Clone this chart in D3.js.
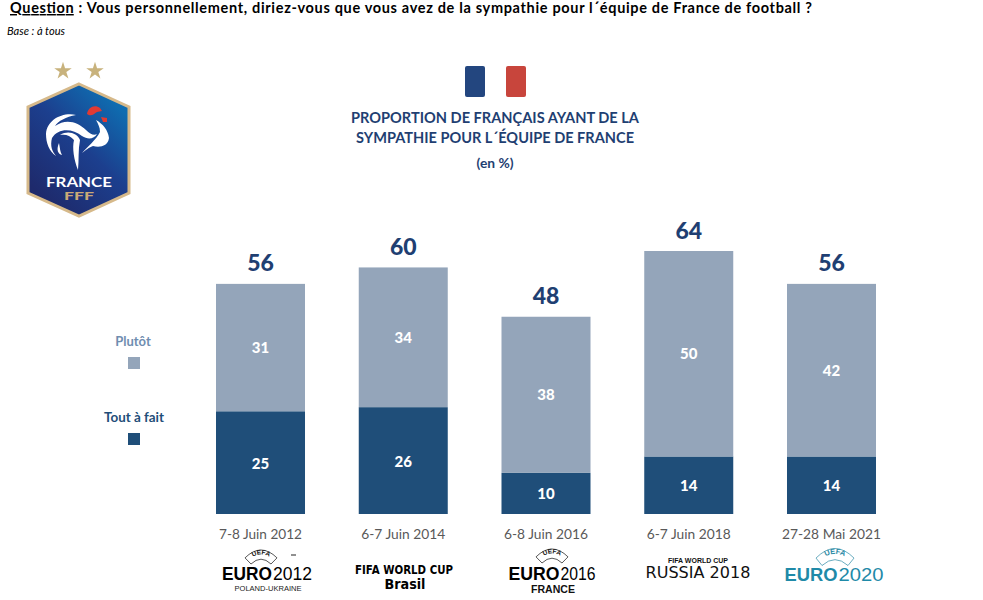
<!DOCTYPE html>
<html><head><meta charset="utf-8">
<script src="https://cdn.jsdelivr.net/npm/d3@7"></script>
<style>html,body{margin:0;padding:0;background:#fff}svg{display:block}text{font-family:Lato,"Noto Sans",sans-serif}</style>
</head><body><svg id="c" width="983" height="600"></svg>
<script>
const dates = ["7-8 Juin 2012","6-7 Juin 2014","6-8 Juin 2016","6-7 Juin 2018","27-28 Mai 2021"];
const toutAFait = [25,26,10,14,14];
const plutot = [31,34,38,50,42];
const totals = [56,60,48,64,56];
const seriesNames = ["Plutôt","Tout à fait"];
const navy="#1f4e79", light="#94a5ba", titleC="#1f3f72";

const svg=d3.select("#c");
const x=d3.scaleBand().domain(dates).range([216,876]).paddingInner(0.3765).paddingOuter(0);
const y=d3.scaleLinear().domain([0,64]).range([514,251]);
const T=(s,xx,yy,size,fill,o={})=>svg.append("text").attr("x",xx).attr("y",yy).attr("font-size",size).attr("fill",fill)
  .attr("text-anchor",o.a||"middle").attr("font-weight",o.w||"normal").attr("font-style",o.i||"normal").text(s);

// header
const q=svg.append("text").attr("x",10).attr("y",13).attr("font-size",14.5).attr("font-weight",700).attr("fill","#000");
q.append("tspan").attr("text-decoration","underline").text("Question");
q.append("tspan").text(" : Vous personnellement, diriez-vous que vous avez de la sympathie pour l´équipe de France de football ?");
q.attr("textLength",802).attr("lengthAdjust","spacing");
T("Base : à tous",7,35,10.5,"#000",{a:"start",i:"italic"}).attr("textLength",58).attr("lengthAdjust","spacingAndGlyphs");

// flag
svg.append("rect").attr("x",465).attr("y",66).attr("width",20).attr("height",31).attr("rx",2).attr("fill","#23467f");
svg.append("rect").attr("x",506).attr("y",66).attr("width",20).attr("height",31).attr("rx",2).attr("fill","#c8453c");
T("PROPORTION DE FRANÇAIS AYANT DE LA",495,123,15,titleC,{w:700}).attr("textLength",288).attr("lengthAdjust","spacingAndGlyphs");
T("SYMPATHIE POUR L´ÉQUIPE DE FRANCE",495,143,15,titleC,{w:700}).attr("textLength",278).attr("lengthAdjust","spacingAndGlyphs");
T("(en %)",495,168,13,titleC,{w:700}).attr("textLength",37).attr("lengthAdjust","spacingAndGlyphs");

// crest
const defs=svg.append("defs");
const g=defs.append("linearGradient").attr("id","crest").attr("x1","0.8").attr("y1","0.1").attr("x2","0.2").attr("y2","0.9");
g.append("stop").attr("offset","0").attr("stop-color","#0f6cb0");
g.append("stop").attr("offset","0.45").attr("stop-color","#1c3f8e");
g.append("stop").attr("offset","1").attr("stop-color","#1e2a6c");
const star=d3.symbol().type(d3.symbolStar).size(95);
[63,95].forEach(cx=>svg.append("path").attr("d",star()).attr("transform",`translate(${cx},71)`).attr("fill","#c8b27c"));
svg.append("path").attr("d","M79,84 L129,107 L129,193 L79,216 L28,193 L28,107 Z").attr("fill","url(#crest)").attr("stroke","#d6b98a").attr("stroke-width",3);
const w="#fff";
// plumage
svg.append("path").attr("fill",w).attr("d","M46,134 C47,120 62,112 76,115 C66,117 58,121 55,126 C66,118 78,122 86,130 C90,134 94,136 97,134 C94,139 88,140 82,136 C72,128 58,128 52,138 C50,146 52,151 56,156 C49,151 46,143 46,134 Z");
svg.append("path").attr("fill",w).attr("d","M60,135 C68,130 77,133 80,140 C78,150 79,160 78,170 C74,160 72,148 74,140 C70,135 65,134 60,135 Z");
svg.append("path").attr("fill",w).attr("d","M59,143 C56,150 58,154 62,155 C60,152 60,148 59,143 Z");
svg.append("path").attr("fill",w).attr("d","M96,120 C103,124 108,130 109,138 C108,146 100,148 93,146 C88,148 86,150 82,153 C88,146 96,140 100,132 C100,127 98,124 96,120 Z");
svg.append("path").attr("fill","#e03a33").attr("d","M87,114 C88,107 95,104 100,108 L102,111 L97,112 C94,114 91,117 87,114 Z");
svg.append("path").attr("fill","#e03a33").attr("d","M101,117 L107,118 L107,122 L103,122 Z");
T("FRANCE",79,187,13,w,{w:700}).attr("textLength",66).attr("lengthAdjust","spacingAndGlyphs");
T("FFF",79,200,11,"#c9a877",{w:900}).attr("textLength",30).attr("lengthAdjust","spacingAndGlyphs");

// bars
const bw=x.bandwidth();
svg.append("g").selectAll("rect").data(dates).join("rect").attr("x",d=>x(d)).attr("width",bw)
  .attr("y",(d,i)=>y(toutAFait[i])).attr("height",(d,i)=>y(0)-y(toutAFait[i])).attr("fill",navy);
svg.append("g").selectAll("rect").data(dates).join("rect").attr("x",d=>x(d)).attr("width",bw)
  .attr("y",(d,i)=>y(toutAFait[i]+plutot[i])).attr("height",(d,i)=>y(0)-y(plutot[i])).attr("fill",light);
const cx=d=>x(d)+bw/2;
dates.forEach((d,i)=>{
  T(toutAFait[i],cx(d),y(toutAFait[i]/2)+6,15,"#fff",{w:900});
  T(plutot[i],cx(d),y(toutAFait[i]+plutot[i]/2)+5.5,15,"#fff",{w:900});
  T(totals[i],cx(d),y(totals[i])-12.5,23,titleC,{w:900});
  T(d,cx(d),539,14,"#595959").attr("textLength",[83,84,84,84,99][i]).attr("lengthAdjust","spacingAndGlyphs");
});

// legend
T(seriesNames[0],133,346,13,"#6f8db0",{w:700});
svg.append("rect").attr("x",128).attr("y",357).attr("width",12).attr("height",12).attr("fill",light);
T(seriesNames[1],134,422,13,navy,{w:700}).attr("textLength",60).attr("lengthAdjust","spacingAndGlyphs");
svg.append("rect").attr("x",128).attr("y",433).attr("width",12).attr("height",12).attr("fill",navy);

// event marks
const H="'Liberation Sans',sans-serif", D="'DejaVu Sans',sans-serif";
const LS=(s,xx,yy,size,fill,len,wt=700,f=H)=>T(s,xx,yy,size,fill,{w:wt}).attr("textLength",len).attr("lengthAdjust","spacingAndGlyphs").style("font-family",f);
let uid=0;
const uefa=(cx0,cy0,col,size,half)=>{
  const id="arc"+(uid++), k=half/16;
  defs.append("path").attr("id",id).attr("d",`M${cx0-half},${cy0+5*k} Q${cx0},${cy0-11*k} ${cx0+half},${cy0+5*k}`);
  svg.append("path").attr("d",`M${cx0-half-2},${cy0+1*k} Q${cx0},${cy0-17*k} ${cx0+half+2},${cy0+1*k} L${cx0+half-4},${cy0+8*k} Q${cx0},${cy0-3*k} ${cx0-half+4},${cy0+8*k} Z`)
    .attr("fill","none").attr("stroke",col).attr("stroke-width",0.7);
  svg.append("text").attr("font-size",size).attr("fill",col).attr("text-anchor","middle").style("font-family",H).attr("font-weight",700)
    .append("textPath").attr("href","#"+id).attr("startOffset","50%").text("UEFA");
};
uefa(261,557,"#111",6.5,14);
svg.append("path").attr("d","M291,555H296").attr("stroke","#222");
LS("EURO",247,580,18.5,"#000",50);
LS("2012",292.5,580,18.5,"#000",39,400);
LS("POLAND-UKRAINE",268,591,7,"#222",67,400);
LS("FIFA WORLD CUP",404,574,12,"#000",98,900,D);
LS("Brasil",405,589,14,"#000",41,900,D);
uefa(552,556,"#111",6.5,14);
LS("EURO",534,580,18.5,"#000",51);
LS("2016",578,580,18.5,"#000",35,400);
LS("FRANCE",553,593,10,"#111",44);
LS("FIFA WORLD CUP",698,562.5,7,"#111",60);
LS("RUSSIA 2018",698,578,15,"#111",105,400,D);
uefa(835,557,"#2b8aa5",7.5,17);
LS("EURO",811,581,18.5,"#1f8aa8",53);
LS("2020",861,581,18.5,"#1f8aa8",45,400);
</script></body></html>
